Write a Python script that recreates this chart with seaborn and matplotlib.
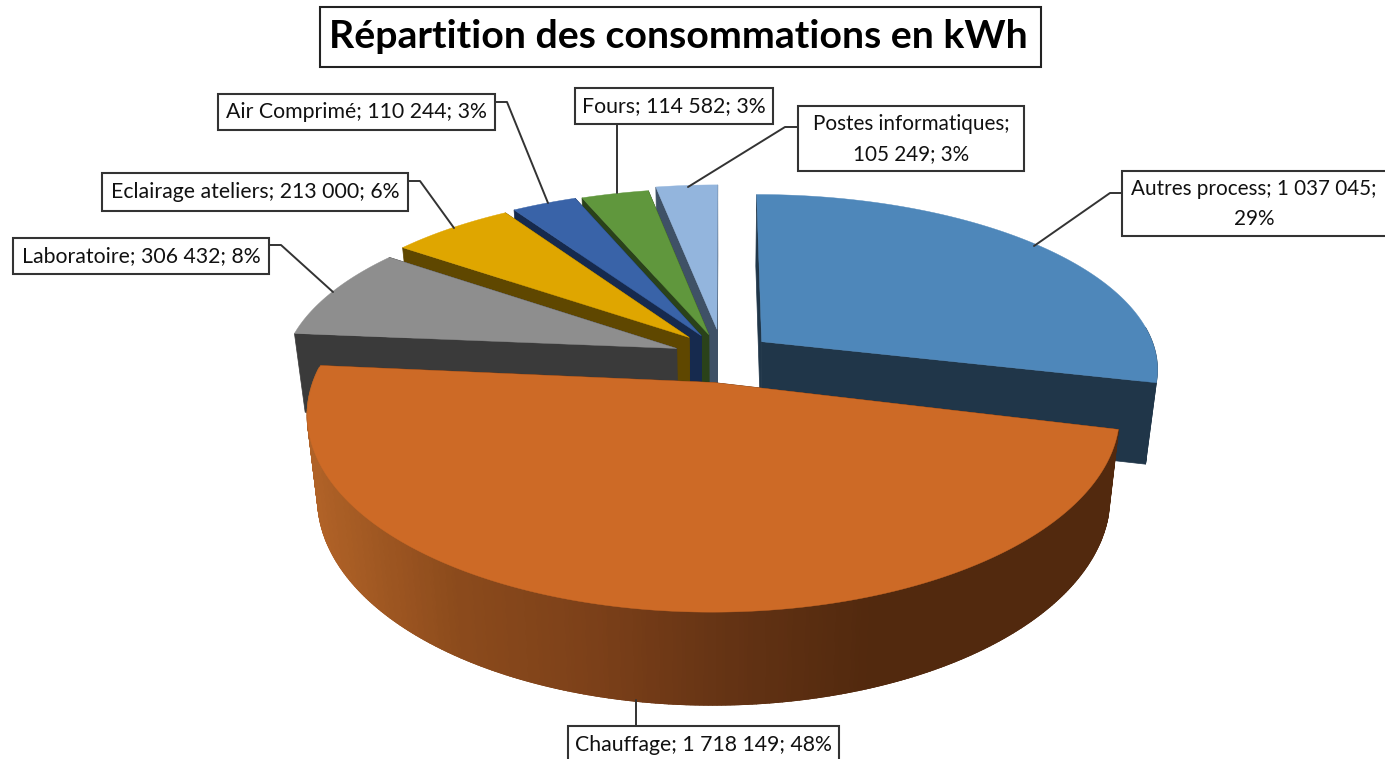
import matplotlib
matplotlib.use('Agg')
import matplotlib.pyplot as plt
from matplotlib.patches import Rectangle
import numpy as np
import seaborn as sns

# values as labelled, clockwise from 12 o'clock
categories = ['Autres process', 'Chauffage', 'Laboratoire', 'Eclairage ateliers',
              'Air Comprimé', 'Fours', 'Postes informatiques']
consumption = [1037045, 1718149, 306432, 213000, 110244, 114582, 105249]
percents = [29, 48, 8, 6, 3, 3, 3]
title = 'Répartition des consommations en kWh'

top_colors = ['#4e87ba', '#cd6a26', '#8e8e8e', '#dfa600', '#3963a8', '#60973d', '#93b5dd']
wall_colors = ['#203649', '#54290e', '#3a3a3a', '#5f4700', '#162a4e', '#2a421a', '#3f5166']
explode = [0.125, 0.14, 0.125, 0.125, 0.12, 0.13, 0.17]
radius = [0.993, 0.986, 0.985, 0.985, 1.0, 1.0, 1.0]
z_stretch = [1.0, 1.075, 1.0, 1.0, 1.0, 1.0, 1.0]
nudge_y = [-3, 0, -2, -5, -4, -2, 0]
draw_order = [6, 5, 4, 3, 2, 0, 1]

# fake perspective of the pie plane, in pixels
CX, CY = 723, 358
R, A, P = 398, 174, 0.15
DEPTH, SHRINK = 80, 0.975

# label boxes: x0, y0, x1, y1, leader line points, text centre
boxes = {
    'Autres process': ((1122, 171, 1395, 236), [(1122, 193), (1110, 193), (1034, 246)], (1254, 204)),
    'Chauffage': ((568, 726, 839, 775), [(636, 726), (636, 700)], (703, 745)),
    'Laboratoire': ((13, 238, 269, 274), [(269, 245), (281, 245), (333, 292)], (141, 256)),
    'Eclairage ateliers': ((102, 173, 408, 211), [(408, 181), (420, 181), (454, 228)], (255, 192)),
    'Air Comprimé': ((218, 94, 495, 130), [(495, 102), (507, 102), (548, 203)], (356, 112)),
    'Fours': ((575, 88, 773, 124), [(617, 124), (617, 193)], (674, 106)),
    'Postes informatiques': ((798, 106, 1024, 171), [(798, 127), (785, 127), (688, 187)], (911, 139)),
}


def project(x, z, lower=False):
    s = 1 / (1 - P * z)
    px = R * x * s
    py = A * z * s
    if lower:
        return CX + px * SHRINK, CY + py + DEPTH * s ** 0.75
    return CX + px, CY + py


def draw_slice(ax, i, start, end, gradient=None):
    mid = np.radians((start + end) / 2)
    ox, oz = explode[i] * np.sin(mid), -explode[i] * np.cos(mid)
    deg = np.linspace(start, end, 320)
    t = np.radians(deg)
    rx = ox + radius[i] * np.sin(t)
    rz = oz - radius[i] * z_stretch[i] * np.cos(t)

    ux, uy = project(rx, rz)
    lx, ly = project(rx, rz, lower=True)
    ax0, ay0 = project(ox, oz)
    ax1, ay1 = project(ox, oz, lower=True)
    dy = nudge_y[i]
    uy, ly, ay0, ay1 = uy + dy, ly + dy, ay0 + dy, ay1 + dy
    wall = wall_colors[i]

    # radial walls
    for k in (0, -1):
        ax.fill([ax0, ux[k], lx[k], ax1], [ay0, uy[k], ly[k], ay1], color=wall, lw=0.5)
    # outer wall, only the part turned to the viewer
    front = (deg > 85) & (deg < 275)
    if front.any():
        fu, fv, gu, gv = ux[front], uy[front], lx[front], ly[front]
        if gradient is None:
            ax.fill(np.r_[fu, gu[::-1]], np.r_[fv, gv[::-1]], color=wall, lw=0.5)
        else:
            for j in range(len(fu) - 2):
                pos = np.clip((fu[j] - 310) / (870 - 310), 0, 1)
                c = gradient[int(pos * (len(gradient) - 1))]
                ax.fill([fu[j], fu[j + 2], gu[j + 2], gu[j]], [fv[j], fv[j + 2], gv[j + 2], gv[j]],
                        color=c, lw=1.0)
    # top face
    ax.fill(np.r_[ax0, ux], np.r_[ay0, uy], color=top_colors[i], lw=0.3)


def main():
    sns.set_theme(style='white')
    plt.rcParams['font.family'] = ['Lato', 'DejaVu Sans']

    fig = plt.figure(figsize=(13.85, 7.59), dpi=100)
    ax = fig.add_axes([0, 0, 1, 1])
    ax.set_xlim(0, 1385)
    ax.set_ylim(759, 0)
    ax.axis('off')

    edges = np.r_[0, np.cumsum(consumption)] / np.sum(consumption) * 360
    gradient = sns.blend_palette(['#b06227', '#8c4b1c', '#7c4019', '#643314', '#52290e'], 100)

    for i in draw_order:
        draw_slice(ax, i, edges[i], edges[i + 1], gradient if categories[i] == 'Chauffage' else None)

    for cat, value, pct in zip(categories, consumption, percents):
        (x0, y0, x1, y1), leader, (tx, ty) = boxes[cat]
        ax.plot(*zip(*leader), color='#333333', lw=1.4, zorder=5)
        ax.add_patch(Rectangle((x0, y0), x1 - x0, y1 - y0, fc='white', ec='#333333', lw=1.5, zorder=6))
        num = f'{value:,}'.replace(',', ' ')
        if cat == 'Postes informatiques':
            txt = f'{cat};\n{num}; {pct}%'
        elif cat == 'Autres process':
            txt = f'{cat}; {num};\n{pct}%'
        else:
            txt = f'{cat}; {num}; {pct}%'
        size = 14.9 if cat in ('Autres process', 'Postes informatiques') else 15.3
        ax.text(tx, ty, txt, ha='center', va='center', fontsize=size, color='#111111',
                linespacing=1.6, zorder=7)

    ax.add_patch(Rectangle((320, 7), 721, 60, fc='white', ec='#222222', lw=1.5, zorder=6))
    ax.text(678, 37, title, ha='center', va='center', fontsize=28.3, fontweight='bold',
            color='black', zorder=7)

    fig.savefig('out.png', dpi=100, facecolor='white')


main()
